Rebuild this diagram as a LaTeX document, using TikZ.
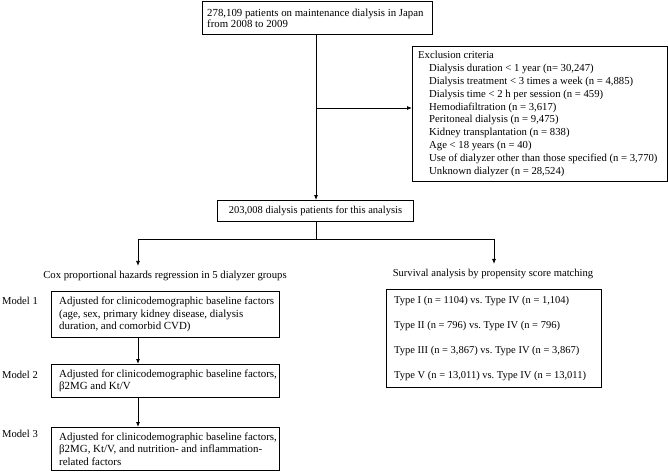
\documentclass[tikz,border=0pt]{standalone}
\usepackage{fontspec}
\setmainfont{Liberation Serif}
\usetikzlibrary{arrows.meta}
\newcommand{\fs}[2]{\fontsize{#1}{#2}\selectfont\frenchspacing}
\begin{document}
\begin{tikzpicture}[x=1pt,y=-1pt,
  font=\fs{10.7}{12.5},
  box/.style={draw, line width=0.9pt, inner sep=0pt, anchor=north west},
  txt/.style={inner sep=0pt, anchor=west, align=left},
  lbl/.style={inner sep=0pt},
  arr/.style={-{Latex[length=5pt,width=4pt]}, line width=0.8pt},
  ln/.style={line width=0.8pt}]
\useasboundingbox (0,0) rectangle (668,472);

% boxes
\node[box, minimum width=230pt, minimum height=33pt] (top) at (202,1) {};
\node[box, minimum width=255pt, minimum height=135pt] (excl) at (412,46) {};
\node[box, minimum width=196pt, minimum height=21pt] (mid) at (217,200) {};
\node[box, minimum width=228pt, minimum height=46pt] (m1) at (51,291) {};
\node[box, minimum width=228pt, minimum height=33pt] (m2) at (51,364) {};
\node[box, minimum width=228pt, minimum height=43pt] (m3) at (51,427) {};
\node[box, minimum width=215pt, minimum height=98pt] (sb) at (386,289) {};

% texts
\node[txt, font=\fs{10.8}{11}] (toptxt) at ([xshift=5pt]top.west)
  {278,109 patients on maintenance dialysis in Japan\\from 2008 to 2009};
\node[txt, font=\fs{10.7}{12.8}] (excltxt) at ([xshift=6pt]excl.west)
  {Exclusion criteria\\
   \hspace*{11pt}Dialysis duration < 1 year (n= 30,247)\\
   \hspace*{11pt}Dialysis treatment < 3 times a week (n = 4,885)\\
   \hspace*{11pt}Dialysis time < 2 h per session (n = 459)\\
   \hspace*{11pt}Hemodiafiltration (n = 3,617)\\
   \hspace*{11pt}Peritoneal dialysis (n = 9,475)\\
   \hspace*{11pt}Kidney transplantation (n = 838)\\
   \hspace*{11pt}Age < 18 years (n = 40)\\
   \hspace*{11pt}Use of dialyzer other than those specified (n = 3,770)\\
   \hspace*{11pt}Unknown dialyzer (n = 28,524)};
\node[lbl, font=\fs{10.5}{12}] (midtxt) at (mid.center) {203,008 dialysis patients for this analysis};

\node[txt, font=\fs{10.9}{12.5}] (m1txt) at ([xshift=8pt]m1.west)
  {Adjusted for clinicodemographic baseline factors\\(age, sex, primary kidney disease, dialysis\\duration, and comorbid CVD)};
\node[txt, font=\fs{10.9}{12.5}] (m2txt) at ([xshift=8pt]m2.west)
  {Adjusted for clinicodemographic baseline factors,\\β2MG and Kt/V};
\node[txt, font=\fs{10.9}{12.5}] (m3txt) at ([xshift=8pt]m3.west)
  {Adjusted for clinicodemographic baseline factors,\\β2MG, Kt/V, and nutrition- and inflammation-\\related factors};

\node[txt, font=\fs{10.5}{25}] (sbtxt) at ([xshift=8pt]sb.west)
  {Type I (n = 1104) vs. Type IV (n = 1,104)\\
   Type II (n = 796) vs. Type IV (n = 796)\\
   Type III (n = 3,867) vs. Type IV (n = 3,867)\\
   Type V (n = 13,011) vs. Type IV (n = 13,011)};

\node[lbl, font=\fs{10.7}{12}] (cox) at (165,276) {Cox proportional hazards regression in 5 dialyzer groups};
\node[lbl, font=\fs{10.6}{12}] (surv) at (493,274) {Survival analysis by propensity score matching};

\node[lbl, anchor=west, font=\fs{10.6}{12}] (l1) at (2,301) {Model 1};
\node[lbl, anchor=west, font=\fs{10.6}{12}] (l2) at (2,375) {Model 2};
\node[lbl, anchor=west, font=\fs{10.6}{12}] (l3) at (2,434) {Model 3};

% connectors
\coordinate (j1) at (316,108);
\coordinate (hl) at (138,239);
\coordinate (hr) at (494,239);

\draw[arr] (top.south -| j1) -- (mid.north -| j1);
\draw[arr] (j1) -- (j1 -| excl.west);
\draw[ln] (mid.south -| j1) -- (hl -| j1);
\draw[ln] (hl) -- (hr);
\draw[arr] (hl) -- ([yshift=5pt]hl |- cox.north);
\draw[arr] (hr) -- ([yshift=5pt]hr |- surv.north);
\draw[arr] (hl |- m1.south) -- (hl |- m2.north);
\draw[arr] (hl |- m2.south) -- (hl |- m3.north);
\end{tikzpicture}
\end{document}
